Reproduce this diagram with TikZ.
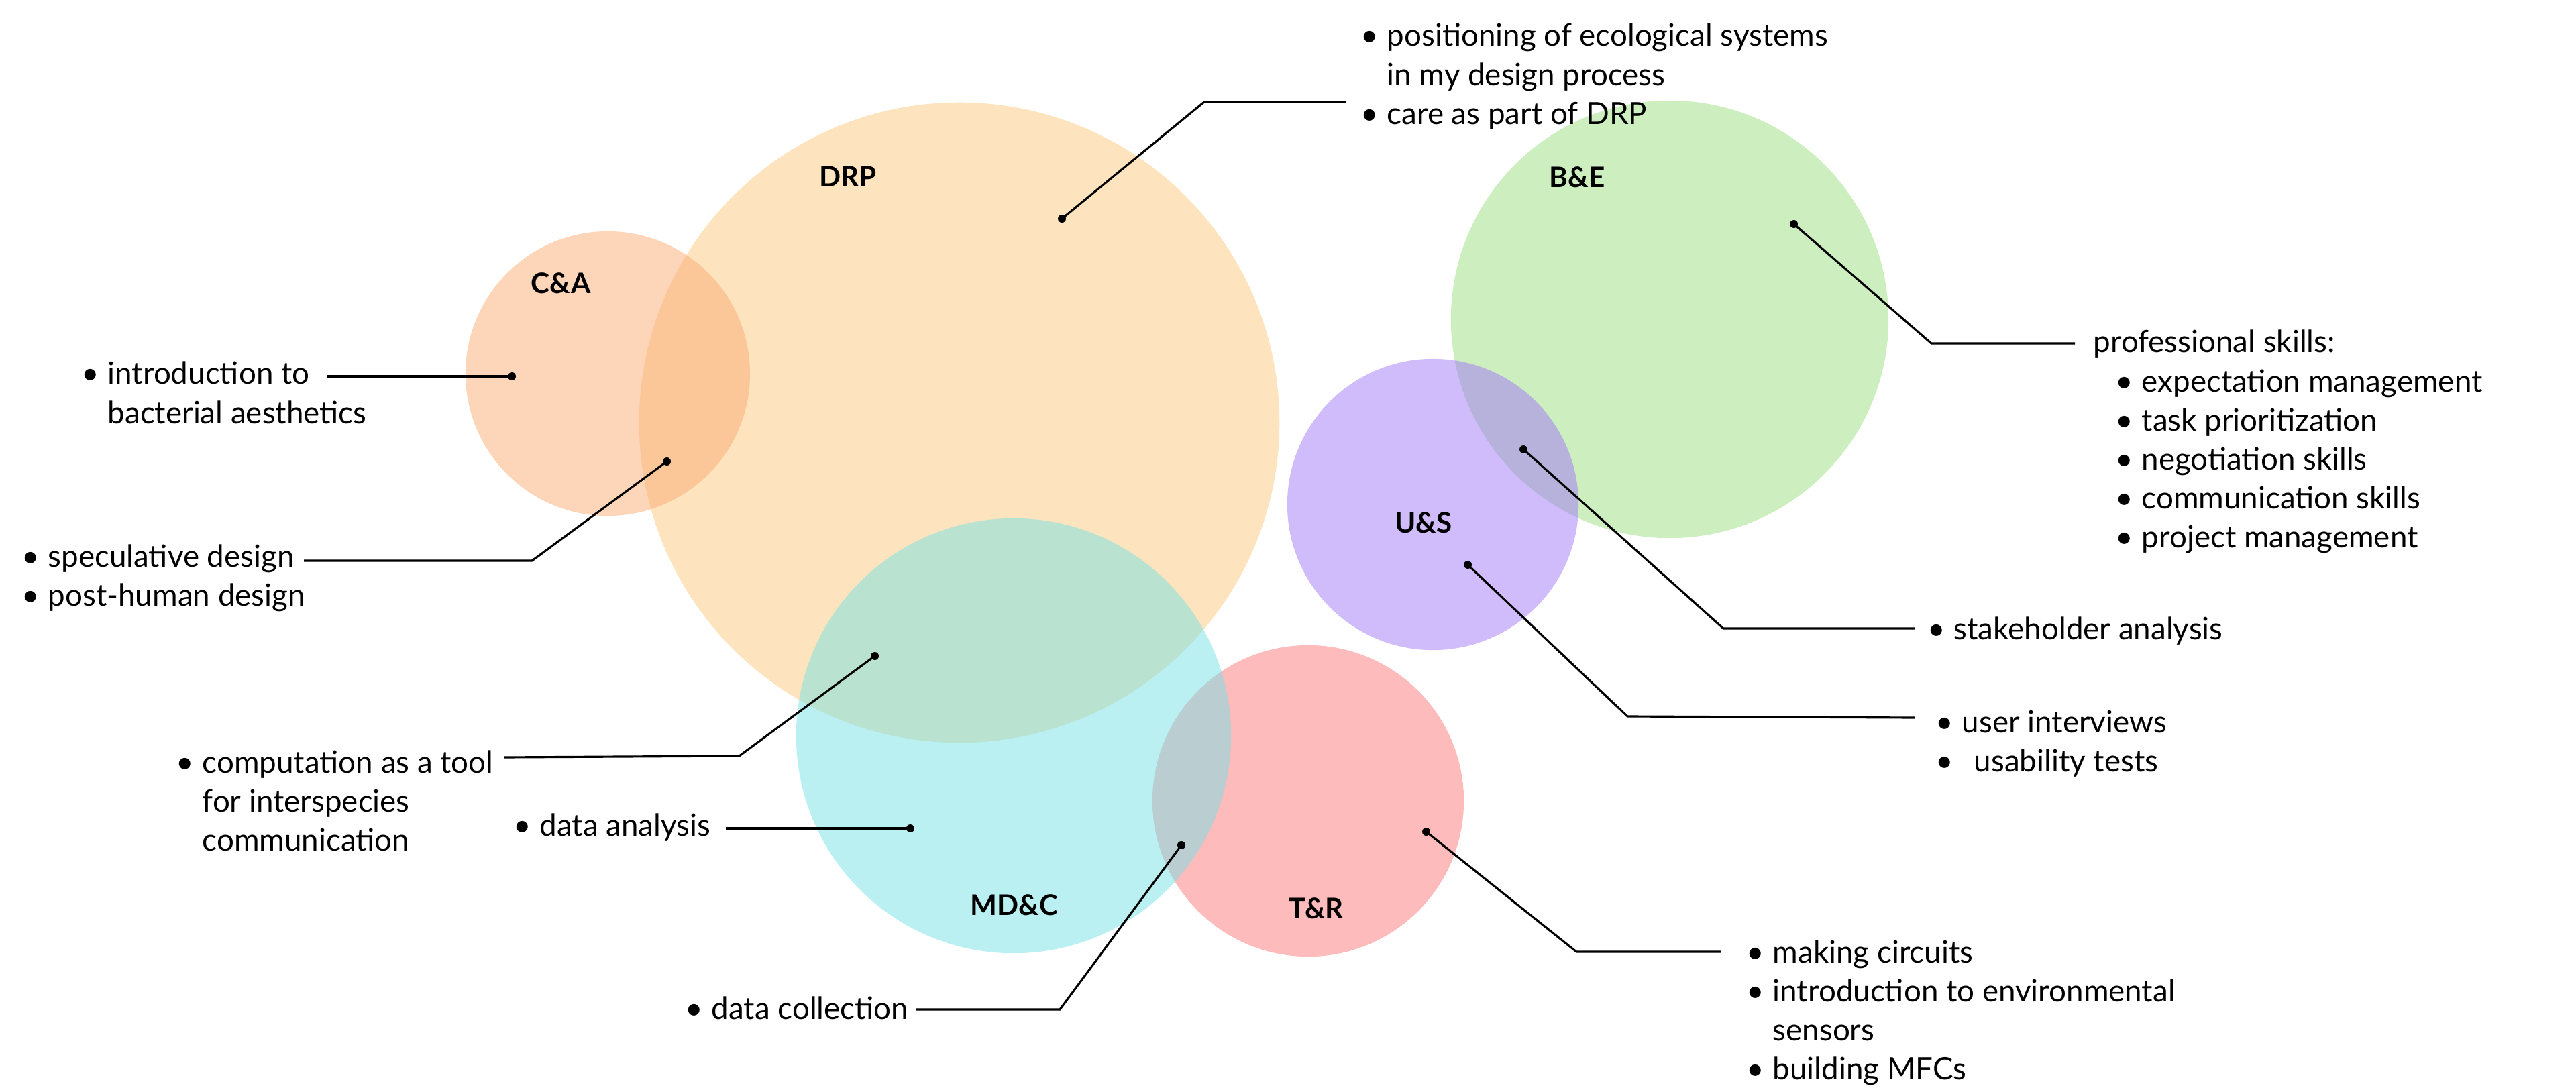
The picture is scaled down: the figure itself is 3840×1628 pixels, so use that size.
\documentclass[tikz,border=0pt]{standalone}
\usepackage{fontspec}
\setmainfont{Lato}
\usepackage{xcolor}
\usetikzlibrary{positioning}
\definecolor{drpcol}{RGB}{251,201,125}
\definecolor{cacol}{RGB}{251,171,115}
\definecolor{mdccol}{RGB}{119,225,229}
\definecolor{trcol}{RGB}{251,119,119}
\definecolor{becol}{RGB}{155,223,129}
\definecolor{uscol}{RGB}{161,119,247}
\newcommand{\bul}{\makebox[0.39cm][l]{•}}
\newcommand{\ind}{\hspace{0.39cm}}
\tikzset{
	blob/.style={circle, fill=#1, fill opacity=0.5, draw=none, inner sep=0pt, outer sep=0pt},
	tag/.style={font=\fontsize{12}{14}\selectfont\bfseries},
	note/.style={font=\fontsize{13}{16.5}\selectfont, anchor=base west, inner sep=0pt},
	lead/.style={line width=0.9pt}
}

\begin{document}
\begin{tikzpicture}[x=0.01cm, y=-0.01cm]
	\useasboundingbox (0,0) rectangle (3840,1628);

	\node[blob=drpcol, minimum size=9.54cm] (drp) at (1430,630) {};
	\node[blob=cacol, minimum size=4.24cm] (ca) at (906,557) {};
	\node[blob=trcol, minimum size=4.64cm] (tr) at (1950,1194) {};
	\node[blob=mdccol, minimum size=6.48cm] (mdc) at (1511,1097) {};
	\node[blob=becol, minimum size=6.52cm] (be) at (2489,476) {};
	\node[blob=uscol, minimum size=4.34cm] (us) at (2136,752) {};

	\node[tag] (calabel) at (836,422) {C\&A};
	\node[tag] (drplabel) at (1264,263) {DRP};
	\node[tag] (belabel) at (2351,264) {B\&E};
	\node[tag] (uslabel) at (2122,779) {U\&S};
	\node[tag] (mdclabel) at (1512,1349) {MD\&C};
	\node[tag] (trlabel) at (1962,1354) {T\&R};

	\coordinate (drpdot) at (1583,326);
	\coordinate (drpbend) at (1795,152);
	\coordinate (drpend) at (2006,152);
	\coordinate (cadot) at (763,561);
	\coordinate (caend) at (487,561);
	\coordinate (specdot) at (994,688);
	\coordinate (specbend) at (793,836);
	\coordinate (specend) at (453,836);
	\coordinate (compdot) at (1304,978);
	\coordinate (compbend) at (1102,1127);
	\coordinate (compend) at (752,1129);
	\coordinate (anadot) at (1357,1235);
	\coordinate (anaend) at (1082,1235);
	\coordinate (coldot) at (1761,1260);
	\coordinate (colbend) at (1580,1505);
	\coordinate (colend) at (1365,1505);
	\coordinate (bedot) at (2674,334);
	\coordinate (bebend) at (2879,512);
	\coordinate (beend) at (3093,512);
	\coordinate (stakedot) at (2271,670);
	\coordinate (stakebend) at (2569,937);
	\coordinate (stakeend) at (2854,937);
	\coordinate (usdot) at (2188,842);
	\coordinate (usbend) at (2426,1068);
	\coordinate (usend) at (2854,1070);
	\coordinate (trdot) at (2126,1240);
	\coordinate (trbend) at (2350,1419);
	\coordinate (trend) at (2565,1419);

	\foreach \d in {drpdot,cadot,specdot,compdot,anadot,coldot,bedot,stakedot,usdot,trdot}
		\fill (\d) circle (6);

	\draw[lead] (drpdot) -- (drpbend) -- (drpend);
	\draw[lead] (cadot) -- (caend);
	\draw[lead] (specdot) -- (specbend) -- (specend);
	\draw[lead] (compdot) -- (compbend) -- (compend);
	\draw[lead] (anadot) -- (anaend);
	\draw[lead] (coldot) -- (colbend) -- (colend);
	\draw[lead] (bedot) -- (bebend) -- (beend);
	\draw[lead] (stakedot) -- (stakebend) -- (stakeend);
	\draw[lead] (usdot) -- (usbend) -- (usend);
	\draw[lead] (trdot) -- (trbend) -- (trend);

	\node[note] (drpnote) at (2028,69) {\begin{tabular}[t]{@{}l@{}}\bul positioning of ecological systems\\ \ind in my design process\\ \bul care as part of DRP\end{tabular}};
	\node[note] (canote) at (121,573) {\begin{tabular}[t]{@{}l@{}}\bul introduction to\\ \ind bacterial aesthetics\end{tabular}};
	\node[note] (specnote) at (32,845) {\begin{tabular}[t]{@{}l@{}}\bul speculative design\\ \bul post-human design\end{tabular}};
	\node[note] (compnote) at (262,1152) {\begin{tabular}[t]{@{}l@{}}\bul computation as a tool\\ \ind for interspecies\\ \ind communication\end{tabular}};
	\node[note] (ananote) at (765,1246) {\bul data analysis};
	\node[note] (colnote) at (1021,1519) {\bul data collection};
	\node[note] (benote) at (3120,526) {\begin{tabular}[t]{@{}l@{}}professional skills:\\ \hspace{0.33cm}\bul expectation management\\ \hspace{0.33cm}\bul task prioritization\\ \hspace{0.33cm}\bul negotiation skills\\ \hspace{0.33cm}\bul communication skills\\ \hspace{0.33cm}\bul project management\end{tabular}};
	\node[note] (stakenote) at (2873,953) {\bul stakeholder analysis};
	\node[note] (usnote) at (2885,1092) {\begin{tabular}[t]{@{}l@{}}\bul user interviews\\ \bul\hspace{0.18cm}usability tests\end{tabular}};
	\node[note] (trnote) at (2603,1435) {\begin{tabular}[t]{@{}l@{}}\bul making circuits\\ \bul introduction to environmental\\ \ind sensors\\ \bul building MFCs\end{tabular}};
\end{tikzpicture}
\end{document}
